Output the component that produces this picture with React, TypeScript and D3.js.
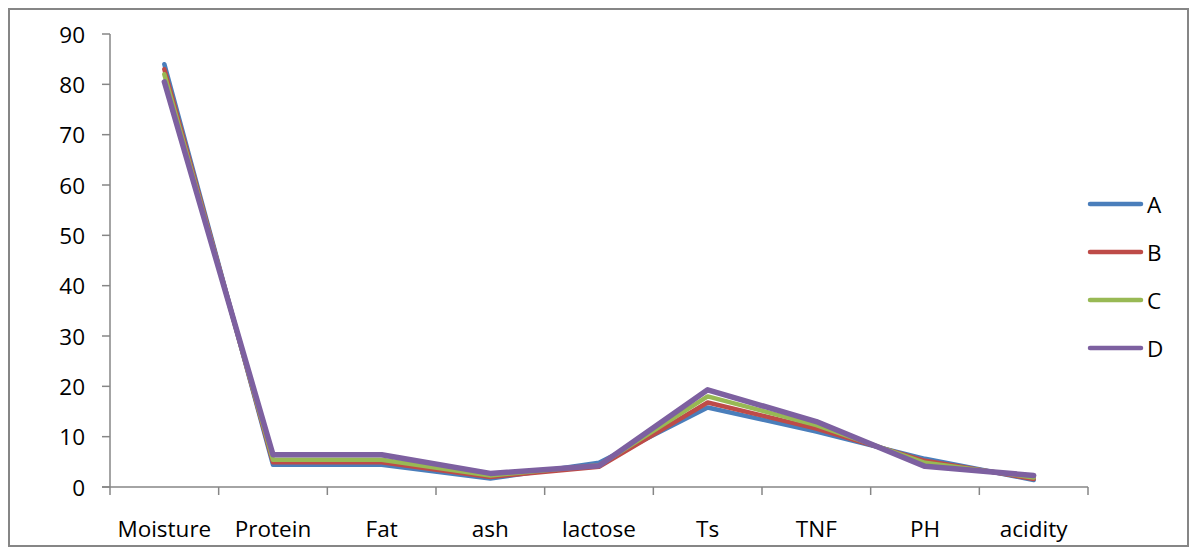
import React from "react";
import * as d3 from "d3";

const categories = ["Moisture", "Protein", "Fat", "ash", "lactose", "Ts", "TNF", "PH", "acidity"];
const seriesNames = ["A", "B", "C", "D"];
const seriesColors = ["#4A7EBB", "#BE4B48", "#98B954", "#7D60A0"];
const valuesA = [84, 4.4, 4.4, 1.7, 4.8, 15.8, 11.0, 5.6, 1.4];
const valuesB = [83, 4.9, 4.9, 2.0, 4.0, 16.8, 11.6, 5.2, 1.6];
const valuesC = [82, 5.4, 5.4, 2.3, 4.3, 18.0, 12.3, 4.8, 1.9];
const valuesD = [80.5, 6.4, 6.4, 2.7, 4.2, 19.3, 13.0, 4.1, 2.3];
const yTicks = [0, 10, 20, 30, 40, 50, 60, 70, 80, 90];

const W = 1191;
const H = 550;
const plot = { left: 110, right: 1088, top: 34, bottom: 487 };
const FONT = "'Open Sans', sans-serif";
const AXIS = "#868686";

export default function App() {
  const x = d3
    .scaleBand<string>()
    .domain(categories)
    .range([plot.left, plot.right])
    .paddingInner(0)
    .paddingOuter(0);
  const y = d3.scaleLinear().domain([0, 90]).range([plot.bottom, plot.top]);
  const cx = (c: string) => (x(c) as number) + x.bandwidth() / 2;

  const line = d3
    .line<number>()
    .x((_, i) => cx(categories[i]))
    .y((v) => y(v));

  const allSeries = [valuesA, valuesB, valuesC, valuesD];
  const boundaries = categories.map((c) => x(c) as number).concat([plot.right]);

  return (
    <svg width={W} height={H} style={{ position: "absolute", left: 0, top: 0 }}>
      <rect x={0} y={0} width={W} height={H} fill="#fff" />
      <rect x={9} y={9} width={1179} height={537} fill="none" stroke={AXIS} strokeWidth={2} />

      {/* y axis */}
      <line x1={plot.left} x2={plot.left} y1={plot.top} y2={plot.bottom} stroke={AXIS} strokeWidth={1.5} />
      {yTicks.map((t) => (
        <g key={t}>
          <line x1={plot.left - 8} x2={plot.left} y1={y(t)} y2={y(t)} stroke={AXIS} strokeWidth={1.5} />
          <text
            x={85}
            y={y(t)}
            textAnchor="end"
            dominantBaseline="central"
            fontFamily={FONT}
            fontSize={22.5}
            fill="#000"
          >
            {t}
          </text>
        </g>
      ))}

      {/* x axis */}
      <line x1={plot.left - 8} x2={plot.right} y1={plot.bottom} y2={plot.bottom} stroke={AXIS} strokeWidth={1.5} />
      {boundaries.map((b, i) => (
        <line key={i} x1={b} x2={b} y1={plot.bottom} y2={plot.bottom + 8} stroke={AXIS} strokeWidth={1.5} />
      ))}
      {categories.map((c) => (
        <text key={c} x={cx(c)} y={537} textAnchor="middle" fontFamily={FONT} fontSize={22.5} fill="#000">
          {c}
        </text>
      ))}

      {/* series */}
      {allSeries.map((vals, i) => (
        <path
          key={seriesNames[i]}
          d={line(vals) || ""}
          fill="none"
          stroke={seriesColors[i]}
          strokeWidth={i === 3 ? 5.5 : 4.5}
          strokeLinejoin="round"
          strokeLinecap="round"
        />
      ))}

      {/* legend */}
      {seriesNames.map((n, i) => {
        const ly = 204 + i * 48;
        return (
          <g key={n}>
            <line x1={1090} x2={1141} y1={ly} y2={ly} stroke={seriesColors[i]} strokeWidth={4.5} strokeLinecap="round" />
            <text x={1147} y={ly} dominantBaseline="central" fontFamily={FONT} fontSize={22.5} fill="#000">
              {n}
            </text>
          </g>
        );
      })}
    </svg>
  );
}
